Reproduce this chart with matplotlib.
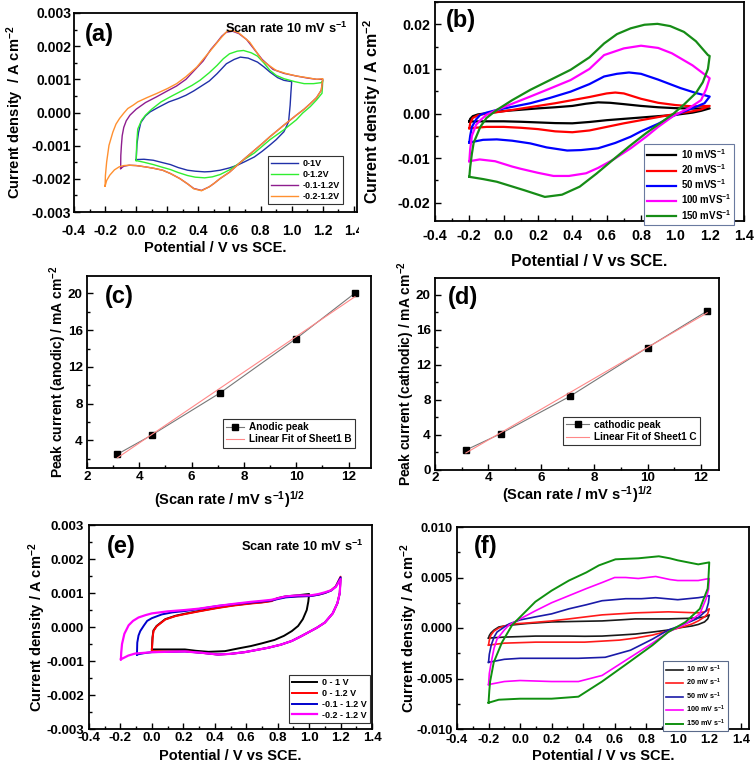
import numpy as np
import matplotlib
matplotlib.use('Agg')
import matplotlib.pyplot as plt
from matplotlib.ticker import FixedLocator, MultipleLocator, FormatStrFormatter
from matplotlib.transforms import Bbox, TransformedBbox

plt.rcParams['font.family'] = ['Liberation Sans', 'DejaVu Sans']
plt.rcParams['font.weight'] = 'bold'
plt.rcParams['axes.labelweight'] = 'bold'
plt.rcParams['mathtext.fontset'] = 'custom'
plt.rcParams['mathtext.default'] = 'regular'
plt.rcParams['axes.unicode_minus'] = False

# ---------------- data (potential V, current density mA cm^-2) ----------------
# (a) 10 mV/s, different potential windows
a_01 = [(0.0, -1.42), (0.005, -0.95), (0.015, -0.6), (0.03, -0.3), (0.06, -0.1), (0.09, 0.02), (0.14, 0.15),
        (0.21, 0.32), (0.27, 0.42), (0.32, 0.52), (0.37, 0.65), (0.41, 0.77), (0.47, 0.95), (0.52, 1.17),
        (0.58, 1.47), (0.63, 1.6), (0.67, 1.67), (0.72, 1.64), (0.78, 1.52), (0.82, 1.38), (0.86, 1.22),
        (0.91, 1.05), (0.95, 0.97), (1.0, 0.93),
        (0.995, 0.6), (0.99, 0.22), (0.98, -0.28), (0.95, -0.58), (0.9, -0.82), (0.86, -0.98), (0.81, -1.17),
        (0.76, -1.34), (0.7, -1.48), (0.65, -1.59), (0.6, -1.67), (0.54, -1.74), (0.48, -1.78), (0.44, -1.79),
        (0.38, -1.77), (0.33, -1.74), (0.27, -1.66), (0.22, -1.57), (0.16, -1.5), (0.11, -1.44), (0.05, -1.41),
        (0.0, -1.42)]
a_012 = [(0.0, -1.45), (0.003, -0.95), (0.01, -0.5), (0.035, -0.23), (0.06, -0.08), (0.1, 0.1), (0.16, 0.32),
         (0.23, 0.5), (0.3, 0.67), (0.36, 0.82), (0.41, 0.97), (0.47, 1.2), (0.52, 1.42), (0.56, 1.62),
         (0.6, 1.77), (0.65, 1.85), (0.69, 1.87), (0.74, 1.8), (0.78, 1.7), (0.82, 1.5), (0.86, 1.27),
         (0.9, 1.12), (0.95, 1.02), (1.02, 0.93), (1.08, 0.87), (1.14, 0.87), (1.19, 0.9), (1.2, 0.97),
         (1.195, 0.58), (1.16, 0.38), (1.12, 0.18), (1.07, -0.02), (1.03, -0.22), (0.95, -0.52), (0.86, -0.82),
         (0.81, -1.02), (0.76, -1.22), (0.7, -1.4), (0.65, -1.57), (0.6, -1.73), (0.54, -1.87), (0.49, -1.94),
         (0.44, -1.97), (0.38, -1.95), (0.33, -1.9), (0.27, -1.81), (0.22, -1.72), (0.16, -1.64), (0.11, -1.57),
         (0.05, -1.5), (0.0, -1.45)]
a_m0112 = [(-0.1, -1.69), (-0.099, -1.3), (-0.095, -0.99), (-0.09, -0.7), (-0.08, -0.45), (-0.064, -0.25),
           (-0.04, -0.08), (0.0, 0.1), (0.06, 0.3), (0.13, 0.47), (0.2, 0.65), (0.26, 0.8), (0.32, 1.0),
           (0.37, 1.25), (0.43, 1.55), (0.48, 1.9), (0.52, 2.12), (0.55, 2.3), (0.58, 2.42), (0.62, 2.45),
           (0.66, 2.38), (0.71, 2.2), (0.76, 1.9), (0.81, 1.6), (0.88, 1.3), (0.95, 1.18), (1.03, 1.1),
           (1.1, 1.04), (1.16, 1.0), (1.2, 1.0),
           (1.19, 0.67), (1.16, 0.45), (1.12, 0.27), (1.08, 0.1), (1.03, -0.08), (0.95, -0.38), (0.86, -0.73),
           (0.81, -0.94), (0.76, -1.14), (0.7, -1.38), (0.65, -1.59), (0.6, -1.8), (0.54, -1.99), (0.5, -2.14),
           (0.47, -2.24), (0.42, -2.35), (0.37, -2.29), (0.33, -2.15), (0.28, -1.99), (0.22, -1.84),
           (0.17, -1.74), (0.11, -1.68), (0.06, -1.64), (0.0, -1.6), (-0.045, -1.59), (-0.08, -1.62),
           (-0.1, -1.69)]
a_m0212 = [(-0.2, -2.22), (-0.198, -1.9), (-0.19, -1.49), (-0.175, -0.99), (-0.15, -0.59), (-0.13, -0.35),
           (-0.107, -0.18), (-0.08, -0.02), (-0.054, 0.12), (-0.02, 0.22), (0.01, 0.32), (0.07, 0.45),
           (0.13, 0.57), (0.2, 0.72), (0.26, 0.87), (0.32, 1.08), (0.39, 1.37), (0.43, 1.6), (0.47, 1.82),
           (0.51, 2.05), (0.54, 2.22), (0.57, 2.38), (0.59, 2.47), (0.62, 2.47), (0.66, 2.4), (0.73, 2.12),
           (0.77, 1.85), (0.81, 1.57), (0.86, 1.4), (0.9, 1.27), (0.96, 1.18), (1.03, 1.1), (1.1, 1.05),
           (1.16, 1.0), (1.2, 1.02),
           (1.19, 0.67), (1.16, 0.45), (1.12, 0.27), (1.08, 0.1), (1.03, -0.08), (0.95, -0.38), (0.86, -0.73),
           (0.81, -0.94), (0.76, -1.14), (0.7, -1.38), (0.65, -1.59), (0.6, -1.8), (0.54, -1.99), (0.5, -2.14),
           (0.47, -2.24), (0.42, -2.36), (0.37, -2.3), (0.33, -2.15), (0.28, -1.99), (0.22, -1.84),
           (0.17, -1.74), (0.11, -1.68), (0.06, -1.64), (0.0, -1.6), (-0.045, -1.59), (-0.08, -1.6),
           (-0.11, -1.64), (-0.14, -1.73), (-0.17, -1.89), (-0.19, -2.05), (-0.2, -2.22)]

# (b) different scan rates
b_10 = [(-0.2, -1.8), (-0.195, -1.2), (-0.18, -0.6), (-0.15, -0.2), (-0.1, 0.05), (-0.05, 0.3), (0.0, 0.55),
        (0.1, 0.85), (0.2, 1.15), (0.3, 1.4), (0.4, 1.7), (0.48, 2.2), (0.55, 2.5), (0.62, 2.4), (0.7, 2.1),
        (0.8, 1.7), (0.9, 1.4), (1.0, 1.2), (1.1, 1.1), (1.2, 1.15),
        (1.15, 0.6), (1.1, 0.2), (1.0, -0.3), (0.9, -0.6), (0.8, -0.9), (0.7, -1.2), (0.6, -1.5), (0.5, -1.9),
        (0.4, -2.2), (0.3, -2.15), (0.2, -2.0), (0.1, -1.85), (0.0, -1.75), (-0.1, -1.75), (-0.2, -1.8)]
b_20 = [(-0.2, -3.3), (-0.195, -2.2), (-0.18, -1.0), (-0.15, -0.4), (-0.1, 0.0), (0.0, 0.5), (0.1, 1.1),
        (0.2, 1.7), (0.3, 2.3), (0.4, 3.0), (0.5, 3.7), (0.6, 4.5), (0.65, 4.7), (0.7, 4.5), (0.8, 3.3),
        (0.9, 2.4), (1.0, 1.9), (1.1, 1.6), (1.2, 1.7),
        (1.15, 0.9), (1.1, 0.5), (1.0, -0.1), (0.9, -0.8), (0.8, -1.5), (0.7, -2.2), (0.6, -3.0), (0.5, -3.8),
        (0.4, -4.2), (0.3, -4.0), (0.2, -3.5), (0.1, -3.2), (0.0, -3.0), (-0.1, -3.0), (-0.2, -3.3)]
b_50 = [(-0.2, -6.5), (-0.195, -5.0), (-0.185, -3.0), (-0.16, -1.3), (-0.136, -0.3), (-0.1, 0.2), (-0.04, 0.8),
        (0.05, 1.5), (0.155, 2.3), (0.27, 3.5), (0.39, 4.9), (0.5, 6.6), (0.585, 8.3), (0.66, 8.9), (0.73, 9.2),
        (0.8, 8.9), (0.9, 7.6), (1.03, 5.7), (1.12, 4.6), (1.2, 3.8),
        (1.17, 2.3), (1.1, 1.2), (0.99, -0.5), (0.9, -2.3), (0.8, -4.0), (0.74, -5.2), (0.65, -6.6),
        (0.55, -7.8), (0.45, -8.2), (0.37, -8.3), (0.25, -7.6), (0.155, -6.7), (0.05, -6.1), (-0.04, -5.8),
        (-0.12, -5.9), (-0.2, -6.5)]
b_100 = [(-0.2, -10.7), (-0.195, -8.0), (-0.185, -5.0), (-0.16, -2.5), (-0.136, -1.5), (-0.1, -0.3),
         (-0.04, 0.8), (0.05, 2.2), (0.155, 3.8), (0.27, 5.6), (0.39, 7.5), (0.5, 10.0), (0.585, 13.1),
         (0.7, 14.6), (0.8, 15.2), (0.9, 14.7), (0.98, 13.5), (1.1, 10.8), (1.2, 7.9),
         (1.18, 5.5), (1.15, 3.0), (1.08, 1.2), (0.99, -0.5), (0.9, -3.0), (0.83, -5.2), (0.74, -7.8),
         (0.636, -10.4), (0.55, -12.2), (0.48, -13.4), (0.38, -14.0), (0.29, -14.0), (0.2, -13.3),
         (0.1, -12.4), (0.05, -11.9), (-0.05, -10.7), (-0.14, -10.3), (-0.2, -10.7)]
b_150 = [(-0.2, -14.2), (-0.195, -12.0), (-0.185, -9.0), (-0.175, -6.6), (-0.136, -3.0), (-0.1, -1.0),
         (-0.04, 0.8), (0.05, 3.0), (0.155, 5.3), (0.27, 7.5), (0.39, 9.8), (0.5, 12.6), (0.585, 15.7),
         (0.66, 17.8), (0.74, 19.1), (0.82, 19.9), (0.896, 20.1), (0.97, 19.6), (1.05, 18.3), (1.12, 16.2),
         (1.19, 13.1), (1.2, 12.9),
         (1.19, 10.0), (1.16, 7.0), (1.12, 4.6), (1.05, 2.0), (0.99, 0.0), (0.91, -2.2), (0.83, -4.4),
         (0.73, -7.4), (0.636, -10.4), (0.54, -13.5), (0.443, -16.4), (0.34, -18.2), (0.24, -18.7),
         (0.12, -17.2), (-0.04, -15.3), (-0.12, -14.7), (-0.2, -14.2)]

# (c), (d) peak current vs square root of scan rate
scan_rate = [10, 20, 50, 100, 150]
anodic_peak = [2.5, 4.58, 9.14, 15.09, 20.04]
cathodic_peak = [2.28, 4.14, 8.39, 13.97, 18.14]

# (e) 10 mV/s, different potential windows
e_01 = [(0.0, -0.66), (0.004, -0.3), (0.01, -0.1), (0.03, 0.03), (0.085, 0.23), (0.15, 0.33), (0.21, 0.39),
        (0.3, 0.47), (0.42, 0.57), (0.52, 0.64), (0.63, 0.7), (0.7, 0.73), (0.76, 0.77), (0.8, 0.85),
        (0.85, 0.9), (0.92, 0.93), (1.0, 0.97),
        (0.995, 0.75), (0.985, 0.5), (0.96, 0.23), (0.93, 0.03), (0.89, -0.12), (0.84, -0.26), (0.78, -0.38),
        (0.7, -0.48), (0.63, -0.56), (0.55, -0.63), (0.465, -0.71), (0.36, -0.73), (0.28, -0.7),
        (0.21, -0.66), (0.1, -0.66), (0.0, -0.66)]
e_012 = [(0.0, -0.71), (0.004, -0.35), (0.01, -0.12), (0.03, 0.02), (0.085, 0.22), (0.15, 0.32), (0.21, 0.38),
         (0.3, 0.46), (0.42, 0.56), (0.52, 0.63), (0.63, 0.69), (0.7, 0.72), (0.76, 0.76), (0.8, 0.84),
         (0.85, 0.88), (0.92, 0.9), (1.0, 0.91), (1.06, 0.95), (1.1, 1.0), (1.14, 1.08), (1.17, 1.2),
         (1.2, 1.48),
         (1.195, 1.0), (1.18, 0.7), (1.15, 0.4), (1.1, 0.13), (1.05, -0.02), (1.01, -0.12), (0.95, -0.27),
         (0.89, -0.41), (0.82, -0.52), (0.74, -0.61), (0.66, -0.68), (0.59, -0.74), (0.5, -0.79),
         (0.42, -0.81), (0.32, -0.76), (0.21, -0.71), (0.1, -0.72), (0.0, -0.71)]
e_m0112 = [(-0.095, -0.81), (-0.093, -0.46), (-0.085, -0.25), (-0.074, -0.12), (-0.05, 0.05), (-0.03, 0.18),
           (0.0, 0.26), (0.063, 0.37), (0.13, 0.43), (0.21, 0.47), (0.3, 0.53), (0.42, 0.62), (0.52, 0.67),
           (0.63, 0.72), (0.7, 0.75), (0.76, 0.78), (0.85, 0.87), (0.93, 0.9), (1.01, 0.91), (1.06, 0.95),
           (1.1, 1.0), (1.14, 1.07), (1.17, 1.19), (1.2, 1.46),
           (1.195, 1.0), (1.18, 0.7), (1.15, 0.4), (1.1, 0.13), (1.05, -0.02), (1.01, -0.12), (0.95, -0.27),
           (0.89, -0.41), (0.82, -0.52), (0.74, -0.61), (0.66, -0.68), (0.59, -0.74), (0.5, -0.79),
           (0.42, -0.81), (0.32, -0.76), (0.21, -0.72), (0.1, -0.73), (0.0, -0.74), (-0.05, -0.77),
           (-0.095, -0.81)]
e_m0212 = [(-0.197, -0.95), (-0.195, -0.75), (-0.19, -0.5), (-0.175, -0.2), (-0.148, 0.05), (-0.12, 0.18),
           (-0.085, 0.28), (-0.04, 0.35), (0.0, 0.4), (0.1, 0.46), (0.21, 0.5), (0.3, 0.54), (0.42, 0.62),
           (0.52, 0.68), (0.63, 0.74), (0.7, 0.77), (0.76, 0.8), (0.85, 0.9), (0.93, 0.93), (1.01, 0.93),
           (1.06, 0.97), (1.1, 1.02), (1.14, 1.08), (1.17, 1.18), (1.2, 1.41),
           (1.195, 1.0), (1.18, 0.7), (1.15, 0.4), (1.1, 0.13), (1.05, -0.02), (1.01, -0.12), (0.95, -0.27),
           (0.89, -0.41), (0.82, -0.52), (0.74, -0.61), (0.66, -0.68), (0.59, -0.74), (0.5, -0.79),
           (0.42, -0.81), (0.32, -0.76), (0.21, -0.72), (0.1, -0.73), (0.0, -0.74), (-0.05, -0.76),
           (-0.106, -0.78), (-0.15, -0.84), (-0.197, -0.95)]

# (f) different scan rates
f_10 = [(-0.2, -1.0), (-0.195, -0.75), (-0.185, -0.5), (-0.165, -0.2), (-0.135, 0.1), (-0.1, 0.2), (-0.05, 0.3),
        (0.05, 0.45), (0.2, 0.6), (0.35, 0.65), (0.52, 0.7), (0.63, 0.8), (0.73, 0.9), (0.84, 0.9), (0.94, 0.9),
        (1.05, 0.95), (1.13, 1.0), (1.17, 1.1), (1.2, 1.3),
        (1.19, 0.9), (1.17, 0.6), (1.13, 0.35), (1.09, 0.2), (1.0, 0.0), (0.94, -0.2), (0.84, -0.4),
        (0.73, -0.6), (0.63, -0.7), (0.52, -0.8), (0.41, -0.82), (0.31, -0.8), (0.2, -0.8), (0.097, -0.8),
        (0.0, -0.85), (-0.1, -0.9), (-0.2, -1.0)]
f_20 = [(-0.2, -1.7), (-0.195, -1.2), (-0.185, -0.7), (-0.165, -0.3), (-0.135, 0.0), (-0.1, 0.2), (-0.05, 0.4),
        (0.05, 0.5), (0.2, 0.7), (0.31, 0.9), (0.52, 1.3), (0.73, 1.5), (0.94, 1.6), (1.13, 1.5), (1.17, 1.6),
        (1.2, 1.9),
        (1.19, 1.4), (1.17, 1.1), (1.13, 0.7), (1.09, 0.4), (1.03, 0.1), (0.96, -0.2), (0.84, -0.7),
        (0.73, -1.0), (0.63, -1.2), (0.52, -1.3), (0.41, -1.4), (0.31, -1.4), (0.2, -1.4), (0.1, -1.4),
        (0.0, -1.45), (-0.1, -1.5), (-0.2, -1.7)]
f_50 = [(-0.2, -3.4), (-0.195, -2.6), (-0.183, -1.7), (-0.165, -0.9), (-0.146, -0.4), (-0.1, 0.1), (-0.07, 0.4),
        (0.0, 0.8), (0.097, 1.1), (0.2, 1.4), (0.31, 1.9), (0.42, 2.3), (0.52, 2.7), (0.67, 2.9), (0.77, 2.9),
        (0.86, 3.0), (1.0, 2.8), (1.13, 3.0), (1.17, 3.1), (1.2, 3.2),
        (1.195, 2.5), (1.18, 1.7), (1.12, 0.9), (1.03, 0.3), (0.94, -0.2), (0.84, -1.1), (0.7, -2.2),
        (0.54, -2.9), (0.37, -3.0), (0.2, -3.0), (0.0, -3.0), (-0.1, -3.1), (-0.2, -3.4)]
f_100 = [(-0.2, -5.6), (-0.195, -4.5), (-0.183, -3.4), (-0.165, -2.0), (-0.146, -1.1), (-0.1, -0.2),
         (-0.07, 0.3), (0.0, 0.9), (0.097, 1.7), (0.2, 2.5), (0.31, 3.2), (0.42, 3.9), (0.52, 4.5), (0.6, 5.0),
         (0.67, 5.0), (0.75, 4.9), (0.86, 5.1), (0.95, 4.8), (1.0, 4.7), (1.13, 4.7), (1.2, 4.9),
         (1.195, 3.8), (1.18, 2.9), (1.14, 1.4), (1.05, 0.4), (0.94, -0.4), (0.84, -1.5), (0.69, -3.0),
         (0.52, -4.7), (0.37, -5.3), (0.2, -5.3), (0.0, -5.2), (-0.1, -5.3), (-0.2, -5.6)]
f_150 = [(-0.2, -7.4), (-0.195, -6.2), (-0.19, -5.3), (-0.167, -3.4), (-0.114, -1.4), (-0.05, 0.3),
         (0.097, 2.6), (0.2, 3.7), (0.31, 4.7), (0.42, 5.5), (0.5, 6.2), (0.605, 6.8), (0.75, 6.9),
         (0.88, 7.1), (0.95, 6.9), (1.0, 6.7), (1.13, 6.3), (1.2, 6.5),
         (1.195, 5.0), (1.19, 3.9), (1.14, 1.9), (1.05, 0.6), (0.94, -0.4), (0.84, -1.7), (0.69, -3.4),
         (0.52, -5.3), (0.37, -6.8), (0.2, -7.0), (0.0, -7.0), (-0.135, -7.1), (-0.2, -7.4)]

# ticks
cv_xticks = [-0.4, -0.2, 0.0, 0.2, 0.4, 0.6, 0.8, 1.0, 1.2, 1.4]
a_yticks = [-0.003, -0.002, -0.001, 0.0, 0.001, 0.002, 0.003]
b_yticks = [-0.02, -0.01, 0.0, 0.01, 0.02]
f_yticks = [-0.010, -0.005, 0.0, 0.005, 0.010]
peak_xticks = [2, 4, 6, 8, 10, 12]
c_yticks = [4, 8, 12, 16, 20]
d_yticks = [0, 4, 8, 12, 16, 20]

# ---------------- figure ----------------
W, H = 756.0, 764.0
fig = plt.figure(figsize=(W / 100, H / 100), dpi=100)


def box(l, t, r, b):
    return [l / W, 1 - b / H, (r - l) / W, (b - t) / H]


def fp(x, y):
    return x / W, 1 - y / H


def style(ax, xt, yt, xminor, yminor, xfmt, yfmt, size, xpad=2, ypad=2):
    ax.xaxis.set_major_locator(FixedLocator(xt))
    ax.yaxis.set_major_locator(FixedLocator(yt))
    ax.xaxis.set_minor_locator(MultipleLocator(xminor))
    ax.yaxis.set_minor_locator(MultipleLocator(yminor))
    ax.xaxis.set_major_formatter(FormatStrFormatter(xfmt))
    ax.yaxis.set_major_formatter(FormatStrFormatter(yfmt))
    ax.tick_params(which='both', direction='in', top=False, right=False, width=1.0, labelsize=size)
    ax.tick_params(axis='x', which='both', pad=xpad)
    ax.tick_params(axis='y', which='both', pad=ypad)
    ax.tick_params(which='major', length=4)
    ax.tick_params(which='minor', length=2.5)
    for s in ax.spines.values():
        s.set_linewidth(1.3)


def labels(ax, xl, yl, xsize, ysize, xlab_top, ylab_right):
    ax.set_xlabel(xl, fontsize=xsize)
    ax.set_ylabel(yl, fontsize=ysize)
    pos = ax.get_position()
    ax.xaxis.set_label_coords(pos.x0 + pos.width / 2, 1 - xlab_top / H, transform=fig.transFigure)
    ax.yaxis.set_label_coords(ylab_right / W, pos.y0 + pos.height / 2, transform=fig.transFigure)


def cv(ax, pts, color, label, lw):
    E, J = np.array(pts).T
    ax.plot(E, J * 1e-3, color=color, lw=lw, label=label)


def legend(ax, x, y, size, edge, hl, ls, bp=0.4):
    lg = ax.legend(loc='upper left', bbox_to_anchor=fp(x, y), bbox_transform=fig.transFigure,
                   borderaxespad=0, fontsize=size, fancybox=False, framealpha=1, handlelength=hl,
                   labelspacing=ls, handletextpad=0.5, borderpad=bp)
    lg.get_frame().set_edgecolor(edge)
    lg.get_frame().set_linewidth(0.8)


pot_label = 'Potential / V vs SCE.'
cd_label = 'Current density / A cm$^{-2}$'
sr_label = '(Scan rate / mV s$^{-1}$)$^{1/2}$'

# (a)
ax_a = fig.add_axes(box(74, 13, 357, 212))
cv(ax_a, a_01, '#2030a8', '0-1V', 1.0)
cv(ax_a, a_012, '#30ee30', '0-1.2V', 1.0)
cv(ax_a, a_m0112, '#8e1d8e', '-0.1-1.2V', 1.0)
cv(ax_a, a_m0212, '#ff9030', '-0.2-1.2V', 1.0)
ax_a.set_xlim(-0.4, 1.42)
ax_a.set_ylim(-0.003, 0.003)
style(ax_a, cv_xticks, a_yticks, 0.1, 0.0005, '%.1f', '%.3f', 10, xpad=8.5)
labels(ax_a, pot_label, 'Current density  / A cm$^{-2}$', 10.5, 10.5, 241, 26)
legend(ax_a, 268, 156, 6.5, '#333333', 3.0, 0.22, 0.35)
ax_a.text(0.965, 0.96, 'Scan rate 10 mV s$^{-1}$', transform=ax_a.transAxes, ha='right', va='top', fontsize=9.3)
# the reference crops the last tick label of (a)
clip = TransformedBbox(Bbox.from_extents(0, 0, 359 / W, 1), fig.transFigure)
for lbl in ax_a.get_xticklabels():
    lbl.set_clip_box(clip)
    lbl.set_clip_on(True)

# (b)
ax_b = fig.add_axes(box(435, 2, 744, 221))
cv(ax_b, b_10, 'black', '10 mVS$^{-1}$', 1.6)
cv(ax_b, b_20, '#ff0000', '20 mVS$^{-1}$', 1.6)
cv(ax_b, b_50, '#0000ff', '50 mVS$^{-1}$', 1.6)
cv(ax_b, b_100, '#ff00ff', '100 mVS$^{-1}$', 1.6)
cv(ax_b, b_150, '#168c16', '150 mVS$^{-1}$', 1.6)
ax_b.set_xlim(-0.4, 1.4)
ax_b.set_ylim(-0.0241, 0.025)
style(ax_b, cv_xticks, b_yticks, 0.1, 0.005, '%.1f', '%.2f', 10.3, xpad=6, ypad=3.5)
labels(ax_b, pot_label, cd_label, 11.5, 11.5, 254, 383)
legend(ax_b, 644, 144, 7, '#6a7aa0', 3.0, 0.15, 0.3)

# (c)
x_sr = np.sqrt(scan_rate)
ax_c = fig.add_axes(box(87, 276, 371, 468))
ax_c.plot(x_sr, anodic_peak, color='#777777', lw=0.8, marker='s', ms=4.5, mfc='black', mec='black',
          label='Anodic peak')
k, b0 = np.polyfit(x_sr, anodic_peak, 1)
ax_c.plot(x_sr, k * x_sr + b0, color='#ff8888', lw=0.8, label='Linear Fit of Sheet1 B')
ax_c.set_xlim(2, 12.86)
ax_c.set_ylim(1, 21.9)
style(ax_c, peak_xticks, c_yticks, 1, 2, '%d', '%d', 9.7, xpad=2.5, ypad=3)
labels(ax_c, sr_label, 'Peak current (anodic) / mA cm$^{-2}$', 10.5, 10, 489, 69)
legend(ax_c, 223, 419, 7.2, '#333333', 1.8, 0.25, 0.3)

# (d)
ax_d = fig.add_axes(box(435, 278, 719, 470))
ax_d.plot(x_sr, cathodic_peak, color='#777777', lw=0.8, marker='s', ms=4.5, mfc='black', mec='black',
          label='cathodic peak')
k, b0 = np.polyfit(x_sr, cathodic_peak, 1)
ax_d.plot(x_sr, k * x_sr + b0, color='#ff8888', lw=0.8, label='Linear Fit of Sheet1 C')
ax_d.set_xlim(2, 12.69)
ax_d.set_ylim(0, 21.9)
style(ax_d, peak_xticks, d_yticks, 1, 2, '%d', '%d', 9.7, xpad=1.5, ypad=3)
labels(ax_d, sr_label, 'Peak current (cathodic) / mA cm$^{-2}$', 10.5, 10, 484, 417)
legend(ax_d, 563, 417, 7.2, '#333333', 2.3, 0.25, 0.3)

# (e)
ax_e = fig.add_axes(box(89, 525, 372, 729))
cv(ax_e, e_01, 'black', '0 - 1 V', 1.4)
cv(ax_e, e_012, '#ff0000', '0 - 1.2 V', 1.4)
cv(ax_e, e_m0112, '#0000cc', '-0.1 - 1.2 V', 1.4)
cv(ax_e, e_m0212, '#ff00ff', '-0.2 - 1.2 V', 1.6)
ax_e.set_xlim(-0.4, 1.4)
ax_e.set_ylim(-0.003, 0.003)
style(ax_e, cv_xticks, a_yticks, 0.1, 0.0005, '%.1f', '%.3f', 9.6, xpad=2.5, ypad=3.5)
labels(ax_e, pot_label, cd_label, 10.5, 10.5, 749, 48)
legend(ax_e, 289, 675, 6.5, '#333333', 2.8, 0.2, 0.35)
ax_e.text(0.97, 0.93, 'Scan rate 10 mV s$^{-1}$', transform=ax_e.transAxes, ha='right', va='top', fontsize=9.3)

# (f)
ax_f = fig.add_axes(box(457, 527, 749, 729))
cv(ax_f, f_10, '#1a1a1a', '10 mV s$^{-1}$', 1.2)
cv(ax_f, f_20, '#ff1a1a', '20 mV s$^{-1}$', 1.2)
cv(ax_f, f_50, '#1a1aa8', '50 mV s$^{-1}$', 1.2)
cv(ax_f, f_100, '#ff00ff', '100 mV s$^{-1}$', 1.2)
cv(ax_f, f_150, '#109010', '150 mV s$^{-1}$', 1.4)
ax_f.set_xlim(-0.4, 1.452)
ax_f.set_ylim(-0.01, 0.01)
style(ax_f, cv_xticks, f_yticks, 0.1, 0.0025, '%.1f', '%.3f', 9.3, xpad=3.5, ypad=3)
labels(ax_f, pot_label, cd_label, 10.5, 10.5, 749, 420)
legend(ax_f, 663, 661, 5.2, '#5a6a8a', 2.4, 0.3, 0.35)

# panel letters
for t, (x, y) in zip(['(a)', '(b)', '(c)', '(d)', '(e)', '(f)'],
                     [(85, 35), (446, 21), (105, 297), (448, 298), (107, 547), (474, 547)]):
    fig.text(*fp(x, y), t, fontsize=17, va='center', ha='left')

fig.savefig('out.png', dpi=100)
